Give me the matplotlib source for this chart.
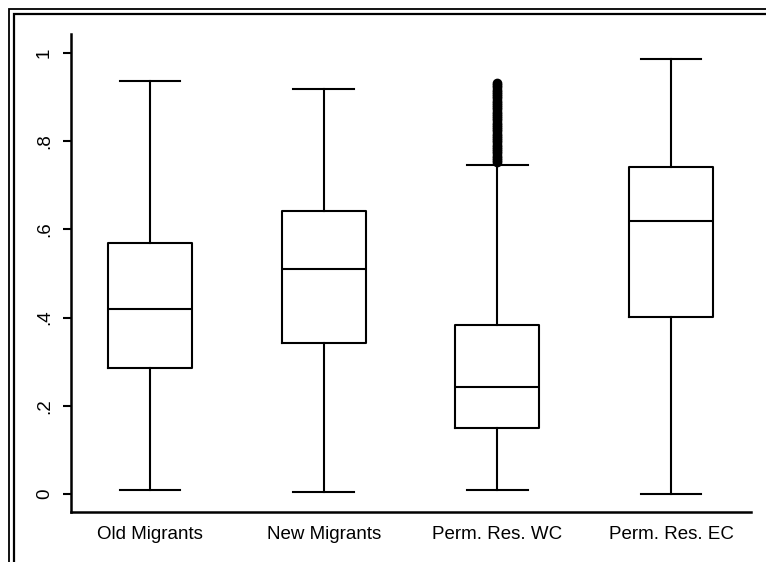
import matplotlib.pyplot as plt
from matplotlib.patches import Rectangle

plt.rcParams["font.family"] = ["Liberation Sans", "DejaVu Sans"]

# ---------------------------------------------------------------------------
# Box summaries per group
# ---------------------------------------------------------------------------

groups = ["Old Migrants", "New Migrants", "Perm. Res. WC", "Perm. Res. EC"]
whisker_low = [0.008, 0.004, 0.008, 0.0]
q1 = [0.285, 0.342, 0.149, 0.402]
median = [0.420, 0.510, 0.243, 0.619]
q3 = [0.568, 0.642, 0.384, 0.742]
whisker_high = [0.937, 0.918, 0.746, 0.986]

# outside values above the upper whisker of Perm. Res. WC
wc_outliers = [0.752, 0.757, 0.762, 0.767, 0.772, 0.777, 0.782, 0.787,
               0.792, 0.797, 0.802, 0.807, 0.812, 0.817, 0.822, 0.827,
               0.832, 0.837, 0.842, 0.847, 0.852, 0.857, 0.862, 0.867,
               0.872, 0.877, 0.882, 0.887, 0.892, 0.897, 0.902, 0.907,
               0.912, 0.917, 0.922, 0.927, 0.932]
outliers = [[], [], wc_outliers, []]

y_ticks = [0, 0.2, 0.4, 0.6, 0.8, 1.0]
y_tick_labels = ["0", ".2", ".4", ".6", ".8", "1"]

stats = []
for i, name in enumerate(groups):
    stats.append({
        "label": name,
        "whislo": whisker_low[i],
        "q1": q1[i],
        "med": median[i],
        "q3": q3[i],
        "whishi": whisker_high[i],
        "fliers": outliers[i],
    })

# ---------------------------------------------------------------------------
# Plot
# ---------------------------------------------------------------------------

fig = plt.figure(figsize=(7.66, 5.62), dpi=100)

# double frame around the graph region
fig.patches.append(Rectangle((8.5 / 766, -0.1), 1.2, 1.1 - 8.5 / 562,
                             transform=fig.transFigure, fill=False,
                             edgecolor="black", linewidth=1.3))
fig.patches.append(Rectangle((14 / 766, -0.1), 1.2, 1.1 - 14 / 562,
                             transform=fig.transFigure, fill=False,
                             edgecolor="black", linewidth=1.6))

ax = fig.add_axes([71 / 766, 1 - 512 / 562, 680 / 766, 478 / 562])

line = {"color": "black", "linewidth": 1.5}
ax.bxp(
    stats,
    positions=[1, 2, 3, 4],
    widths=0.484,
    showfliers=True,
    boxprops=line,
    medianprops=line,
    whiskerprops=line,
    capprops=line,
    capwidths=0.35,
    flierprops={"marker": "o", "markerfacecolor": "black",
                "markeredgecolor": "black", "markersize": 6},
)

ax.set_xlim(0.545, 4.46)
ax.set_ylim(-0.041, 1.043)

ax.set_yticks(y_ticks)
ax.set_yticklabels(y_tick_labels, rotation=90, va="center", fontsize=13.5)
ax.tick_params(axis="y", length=6, width=1.5, pad=7)
ax.tick_params(axis="x", length=0, pad=10, labelsize=13.5)

for side in ["top", "right"]:
    ax.spines[side].set_visible(False)
for side in ["left", "bottom"]:
    ax.spines[side].set_linewidth(1.8)

fig.savefig("out.png", dpi=100)
